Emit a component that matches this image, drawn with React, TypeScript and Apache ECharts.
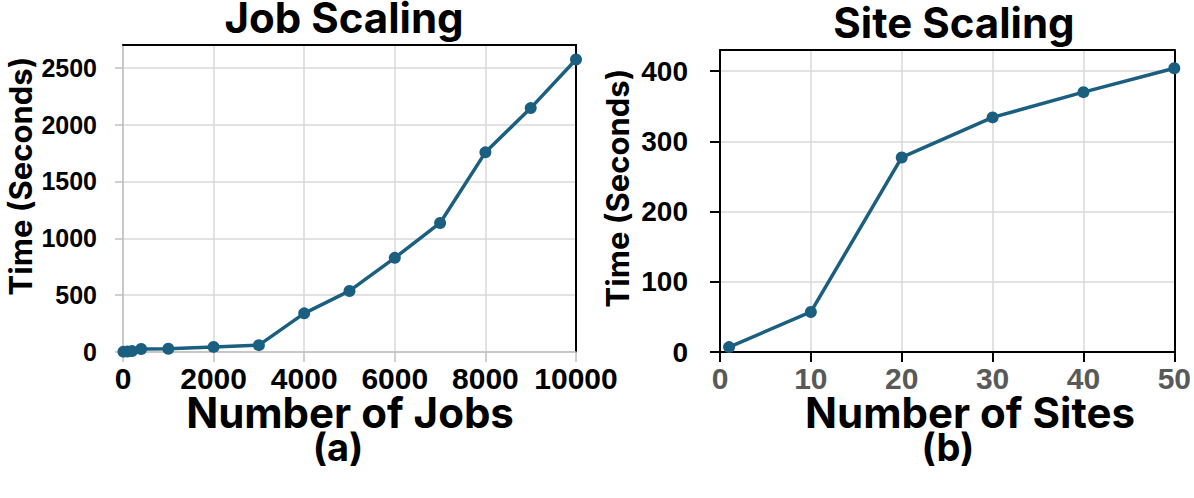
import React, { useEffect, useRef } from "react";
import * as echarts from "echarts";

// ---- Data ----
const jobsX = [10, 100, 200, 400, 1000, 2000, 3000, 4000, 5000, 6000, 7000, 8000, 9000, 10000];
const jobsTime = [3, 5, 8, 26, 28, 45, 60, 340, 537, 828, 1135, 1756, 2145, 2573];
const jobsYTicks = [0, 500, 1000, 1500, 2000, 2500];

const sitesX = [1, 10, 20, 30, 40, 50];
const sitesTime = [7, 57, 277, 334, 370, 404];
const sitesYTicks = [0, 100, 200, 300, 400];

const titles = ["Job Scaling", "Site Scaling"];
const xNames = ["Number of Jobs", "Number of Sites"];
const yNames = ["Time (Seconds)", "Time (Seconds)"];
const panelLabels = ["(a)", "(b)"];

const FONT = "Inter, 'Liberation Sans', Arial, sans-serif";
const TICKFONT = "'Liberation Sans', Arial, sans-serif";
const LINE = "#1b5f80";
const GRID = "#d9d9d9";

export default function App() {
  const ref = useRef<HTMLDivElement>(null);
  useEffect(() => {
    if (!ref.current) return;
    const chart = echarts.init(ref.current, null, { renderer: "svg" });
    const label = (size: number, color = "#000", margin = 26) => ({
      show: true,
      color,
      fontSize: size,
      lineHeight: Math.round(size * 0.9),
      fontWeight: "bold",
      fontFamily: TICKFONT,
      margin,
      formatter: (v: number) => String(v),
    });
    const borderAxis = (gridIndex: number, min: number, max: number, position: string) => ({
      gridIndex,
      type: "value",
      position,
      min,
      max,
      axisLine: { show: true, onZero: false, lineStyle: { color: "#000", width: 2 } },
      axisTick: { show: false },
      axisLabel: { show: false },
      splitLine: { show: false },
    });
    const option: any = {
      animation: false,
      grid: [
        { left: 123, top: 45, width: 453, height: 307 },
        { left: 720, top: 50, width: 457, height: 302 },
      ],
      xAxis: [
        {
          gridIndex: 0,
          type: "value",
          min: 0,
          max: 10000,
          interval: 2000,
          axisLine: { show: true, onZero: false, lineStyle: { color: "#bfbfbf", width: 1.5 } },
          axisTick: { show: true, length: 10, lineStyle: { color: "#bfbfbf", width: 1.5 } },
          axisLabel: label(30, "#000", 13),
          splitLine: { show: true, lineStyle: { color: GRID, width: 1.5 } },
        },
        borderAxis(0, 0, 10000, "top"),
        {
          gridIndex: 1,
          type: "value",
          min: 0,
          max: 50,
          interval: 10,
          axisLine: { show: true, onZero: false, lineStyle: { color: "#000", width: 2 } },
          axisTick: { show: true, length: 10, lineStyle: { color: "#000", width: 2 } },
          axisLabel: label(30, "#595959", 13),
          splitLine: { show: true, lineStyle: { color: GRID, width: 1.5 } },
        },
        borderAxis(1, 0, 50, "top"),
      ],
      yAxis: [
        {
          gridIndex: 0,
          type: "value",
          min: 0,
          max: 2700,
          interval: 500,
          axisLine: { show: true, onZero: false, lineStyle: { color: "#bfbfbf", width: 1.5 } },
          axisTick: { show: true, length: 8, customValues: jobsYTicks, lineStyle: { color: "#bfbfbf", width: 1.5 } },
          axisLabel: { ...label(25, "#000", 26), customValues: jobsYTicks },
          splitLine: { show: true, lineStyle: { color: GRID, width: 1.5 } },
        },
        borderAxis(0, 0, 2700, "right"),
        {
          gridIndex: 1,
          type: "value",
          min: 0,
          max: 430,
          interval: 100,
          axisLine: { show: true, onZero: false, lineStyle: { color: "#000", width: 2 } },
          axisTick: { show: true, length: 10, customValues: sitesYTicks, lineStyle: { color: "#000", width: 2 } },
          axisLabel: { ...label(28, "#000", 32), customValues: sitesYTicks },
          splitLine: { show: true, lineStyle: { color: GRID, width: 1.5 } },
        },
        borderAxis(1, 0, 430, "right"),
      ],
      series: [
        {
          type: "line",
          xAxisIndex: 0,
          yAxisIndex: 0,
          data: jobsX.map((x, i) => [x, jobsTime[i]]),
          symbol: "circle",
          symbolSize: 12,
          lineStyle: { color: LINE, width: 3.5 },
          itemStyle: { color: LINE },
          z: 5,
        },
        {
          type: "line",
          xAxisIndex: 2,
          yAxisIndex: 2,
          data: sitesX.map((x, i) => [x, sitesTime[i]]),
          symbol: "circle",
          symbolSize: 12,
          lineStyle: { color: LINE, width: 3.5 },
          itemStyle: { color: LINE },
          z: 5,
        },
      ],
      graphic: [
        ...[
          { t: titles[0], x: 344, y: 17, s: 42, lh: 34 },
          { t: titles[1], x: 954, y: 22, s: 42, lh: 36 },
          { t: xNames[0], x: 350, y: 412, s: 42, lh: 34 },
          { t: xNames[1], x: 970, y: 412, s: 42, lh: 34 },
          { t: panelLabels[0], x: 338, y: 447, s: 38, lh: 36 },
          { t: panelLabels[1], x: 948, y: 447, s: 38, lh: 36 },
        ].map((d) => ({
          type: "text",
          x: d.x,
          y: d.y,
          style: {
            text: d.t,
            fontSize: d.s,
            lineHeight: d.lh,
            fontWeight: "bold",
            fontFamily: FONT,
            fill: "#000",
            textAlign: "center",
            textVerticalAlign: "middle",
          },
        })),
        ...[
          { t: yNames[0], x: 20, y: 176 },
          { t: yNames[1], x: 617, y: 188 },
        ].map((d) => ({
          type: "text",
          x: d.x,
          y: d.y,
          rotation: Math.PI / 2,
          style: {
            text: d.t,
            fontSize: 31,
            lineHeight: 32,
            fontWeight: "bold",
            fontFamily: FONT,
            fill: "#000",
            textAlign: "center",
            textVerticalAlign: "middle",
          },
        })),
      ],
    };
    chart.setOption(option);
    return () => chart.dispose();
  }, []);
  return (
    <div
      ref={ref}
      style={{ position: "fixed", left: 0, top: 0, width: 1194, height: 498, background: "#fff" }}
    />
  );
}
